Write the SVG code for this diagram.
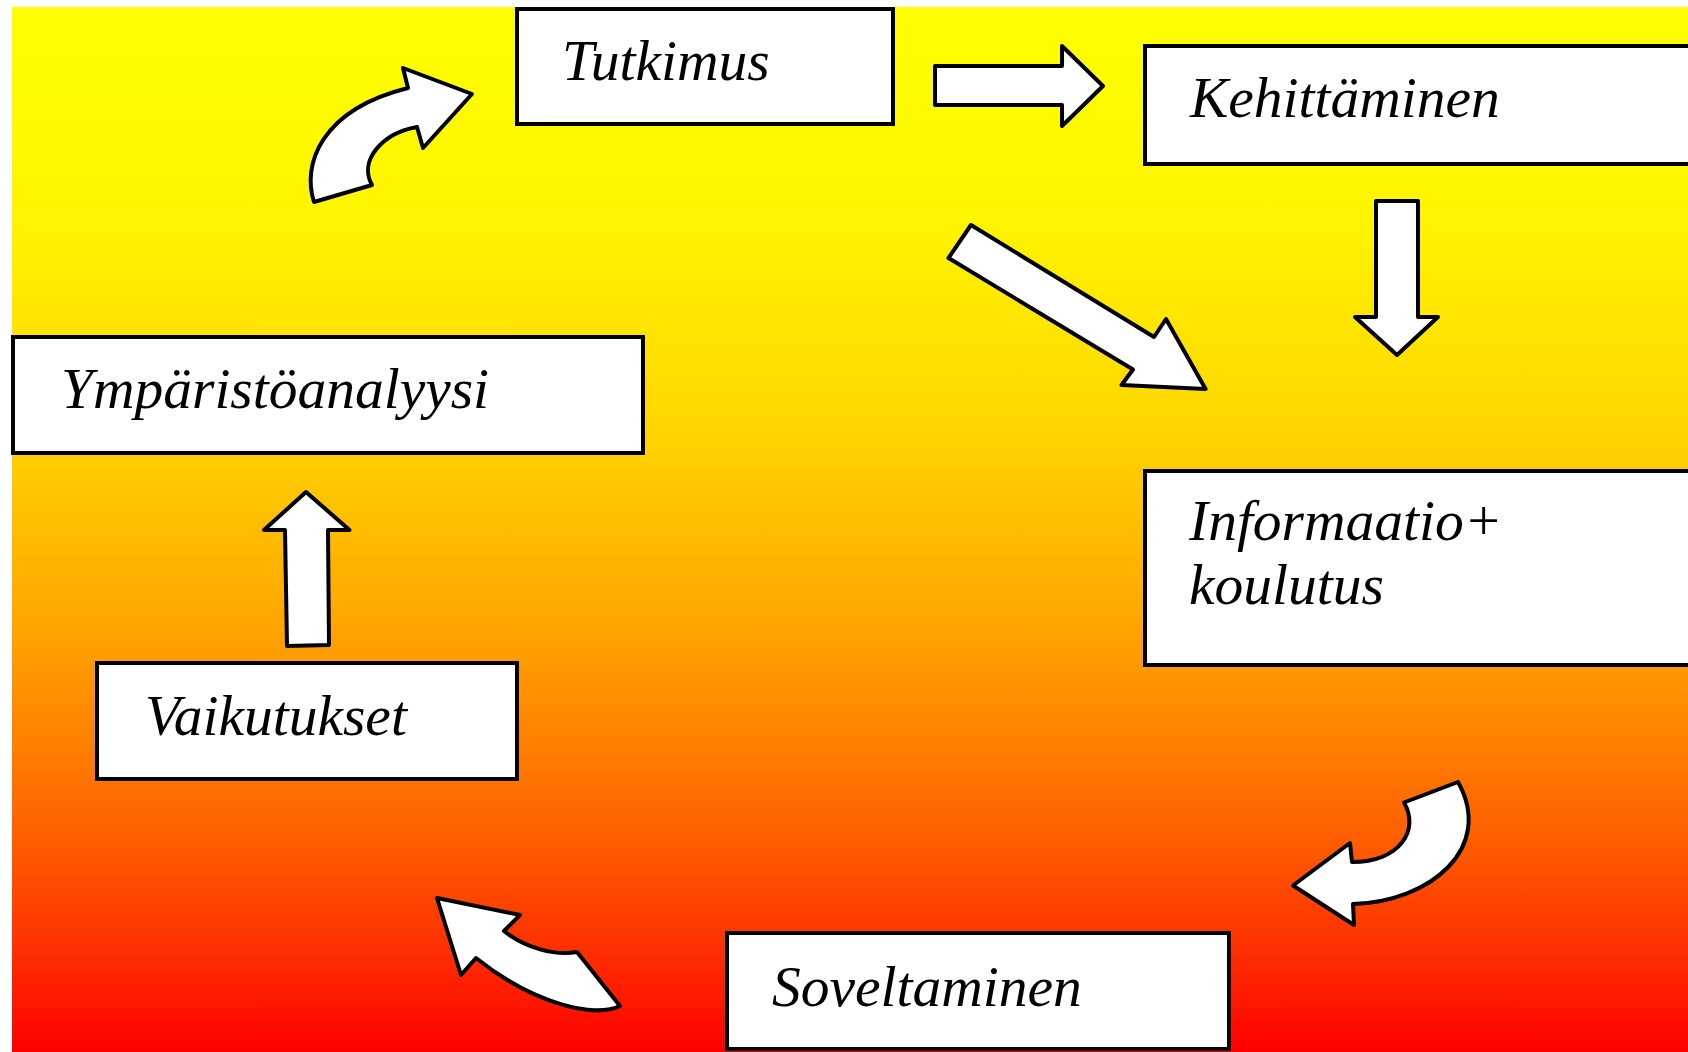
<svg xmlns="http://www.w3.org/2000/svg" width="1688" height="1052" viewBox="0 0 1688 1052">
<defs>
<linearGradient id="bg" x1="0" y1="0" x2="0" y2="1">
<stop offset="0" stop-color="#FFFF00"/>
<stop offset="0.2" stop-color="#FFF500"/>
<stop offset="0.4" stop-color="#FFD600"/>
<stop offset="0.6" stop-color="#FFA300"/>
<stop offset="0.7" stop-color="#FF8200"/>
<stop offset="0.8" stop-color="#FF5C00"/>
<stop offset="0.9" stop-color="#FF3000"/>
<stop offset="1" stop-color="#FF0000"/>
</linearGradient>
<style>
.box{fill:#fff;stroke:#000;stroke-width:4}
.arr{fill:#fff;stroke:#000;stroke-width:4;stroke-linejoin:round}
.lbl{font-family:'Liberation Serif','Times New Roman',serif;font-style:italic;font-size:57.5px;fill:#000}
</style>
</defs>
<rect x="12" y="7" width="1676" height="1045" fill="url(#bg)"/>
<g id="connectors">
<path class="arr" d="M314,202 C302,165 320,110 408,88 L403,68 L472,94 L423,148 L417,127 C383,133 358,160 372,185 Z"/>
<path class="arr" d="M935,66 L1062,66 L1062,46 L1103,86 L1062,126 L1062,105 L935,105 Z"/>
<path class="arr" d="M1376,201 L1418,201 L1418,317 L1438,317 L1397,355 L1355,317 L1376,317 Z"/>
<path class="arr" d="M971,225 L1154,337 L1166,319 L1205.6,389 L1121.5,385 L1133,369.5 L948.5,258 Z"/>
<path class="arr" d="M1458,782 L1404,802.5 C1420,830 1400,862 1352,862 L1350,843 L1293,885.5 L1354,925 L1353,904 C1430,902 1495,848 1458,782 Z"/>
<path class="arr" d="M437,898 L520,915 L504,931 C525,948 555,956 577,952 L620,1006 C595,1018 535,1005 476,958 L461,975 Z"/>
<path class="arr" d="M287,646 L329,645 L328,530 L349.5,530 L306,492 L264,530 L285,530 Z"/>
</g>
<g id="tutkimus">
<rect class="box" x="517" y="9" width="376" height="115"/>
<text class="lbl" x="562" y="80">Tutkimus</text>
</g>
<g id="kehittaminen">
<rect class="box" x="1145" y="46" width="560" height="118"/>
<text class="lbl" x="1190" y="117">Kehittäminen</text>
</g>
<g id="ymparistoanalyysi">
<rect class="box" x="13" y="337" width="630" height="116"/>
<text class="lbl" x="61" y="408">Ympäristöanalyysi</text>
</g>
<g id="informaatio">
<rect class="box" x="1145" y="471" width="560" height="194"/>
<text class="lbl" x="1189" y="540">Informaatio+</text>
<text class="lbl" x="1189" y="604">koulutus</text>
</g>
<g id="vaikutukset">
<rect class="box" x="97" y="663" width="420" height="116"/>
<text class="lbl" x="145" y="735">Vaikutukset</text>
</g>
<g id="soveltaminen">
<rect class="box" x="727" y="933" width="502" height="116"/>
<text class="lbl" x="772" y="1006">Soveltaminen</text>
</g>
</svg>
